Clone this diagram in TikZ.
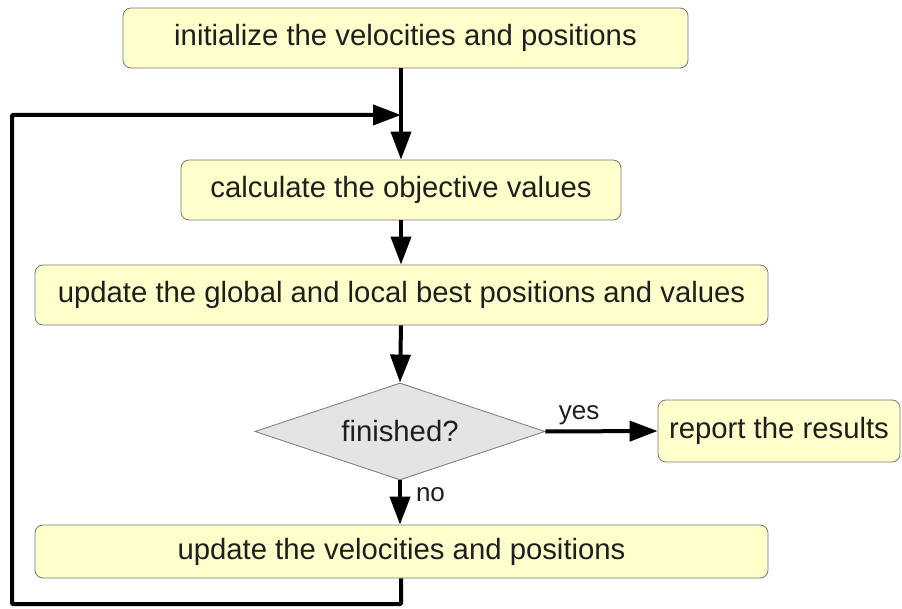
\documentclass[tikz,border=0pt]{standalone}
\usepackage{fontspec}
\setmainfont{Liberation Sans}
\usetikzlibrary{arrows.meta,shapes.geometric}
\definecolor{boxfill}{RGB}{255,255,204}
\definecolor{boxline}{RGB}{120,120,120}
\definecolor{dfill}{RGB}{228,228,228}
\definecolor{txt}{RGB}{30,30,30}
\tikzset{
  stepbox/.style={draw=boxline, line width=0.8pt, fill=boxfill, rounded corners=8pt,
    inner sep=0pt, font=\fontsize{29.3}{33}\selectfont, text=txt},
  decbox/.style={diamond, aspect=3, draw=boxline, line width=0.8pt, fill=dfill, inner sep=0pt,
    font=\fontsize{29.3}{33}\selectfont, text=txt},
  conn/.style={line width=4pt, -{Triangle[length=28pt,width=20pt]}},
  lbl/.style={font=\fontsize{26}{29}\selectfont, text=txt, inner sep=0pt}
}
\begin{document}
\begin{tikzpicture}[x=1pt,y=-1pt]
\useasboundingbox (0,0) rectangle (902,609);
\node[stepbox, minimum width=565pt, minimum height=60pt] (init) at (405.5,38) {initialize the velocities and positions};
\node[stepbox, minimum width=440pt, minimum height=60pt] (calc) at (401,190) {calculate the objective values};
\node[stepbox, minimum width=733pt, minimum height=60pt] (upd) at (401.5,295) {update the global and local best positions and values};
\node[decbox, minimum width=290pt, minimum height=97pt] (fin) at (400,431.5) {finished?};
\node[stepbox, minimum width=242pt, minimum height=62pt] (rep) at (779,431) {report the results};
\node[stepbox, minimum width=733pt, minimum height=53pt] (vel) at (401.5,551.5) {update the velocities and positions};
\coordinate (j) at (401,115);
\coordinate (lb) at (12,604);
\coordinate (lt) at (12,115);
\draw[conn] (init.south -| j) -- (calc.north -| j);
\draw[conn] (calc.south -| j) -- (upd.north -| j);
\draw[conn] (upd.south -| j) -- (fin.north);
\draw[conn] (fin.east) -- node[lbl, above=4pt, pos=0.3] {yes} (rep.west);
\draw[conn] (fin.south) -- node[lbl, right=14pt, pos=0.33] {no} (vel.north -| fin.south);
\draw[conn, rounded corners=1pt] (vel.south -| j) |- (lb) -- (lt) -- (j);
\end{tikzpicture}
\end{document}
